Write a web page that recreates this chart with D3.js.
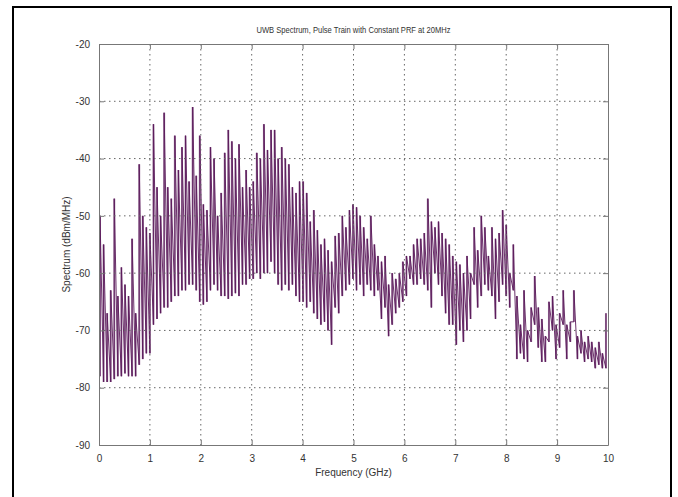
<!DOCTYPE html>
<meta charset="utf-8">
<html>
  <head>
    <style>
      body { margin: 0; background: #fff; }
      text { font-family: "Liberation Sans", Arial, sans-serif; fill: #333; }
      .grid line { stroke: #666; stroke-width: 1; stroke-dasharray: 1.5,3.5; }
      .axis path, .axis line { stroke: #777; }
    </style>
    <script src="https://d3js.org/d3.v7.min.js"></script>
  </head>
  <body>
    <div id="chart"></div>
    <script type="text/javascript">
      // spectral spikes (GHz, dBm/MHz)
      var freqGHz = [
        0.02, 0.09, 0.16, 0.23, 0.30, 0.37, 0.44, 0.51, 0.58, 0.65, 0.72, 0.79, 0.86, 0.93, 1.00,
        1.07, 1.14, 1.21, 1.28, 1.35, 1.42, 1.49, 1.56, 1.63, 1.70, 1.77, 1.84, 1.91, 1.98,
        2.05, 2.12, 2.19, 2.26, 2.33, 2.40, 2.47, 2.54, 2.61, 2.68, 2.75, 2.82, 2.89, 2.96,
        3.03, 3.10, 3.17, 3.24, 3.31, 3.38, 3.45, 3.52, 3.59, 3.66, 3.73, 3.80, 3.87, 3.94,
        4.01, 4.08, 4.15, 4.22, 4.29, 4.36, 4.43, 4.50, 4.57, 4.64, 4.71, 4.78, 4.85, 4.92,
        4.99, 5.06, 5.13, 5.20, 5.27, 5.34, 5.41, 5.48, 5.55, 5.62, 5.69, 5.76, 5.83, 5.90,
        5.97, 6.04, 6.11, 6.18, 6.25, 6.32, 6.39, 6.46, 6.53, 6.60, 6.67, 6.74, 6.81, 6.88,
        6.95, 7.02, 7.09, 7.16, 7.23, 7.30, 7.37, 7.44, 7.51, 7.58, 7.65, 7.72, 7.79, 7.86,
        7.93, 8.00, 8.07, 8.14, 8.21, 8.28, 8.35, 8.42, 8.49, 8.56, 8.63, 8.70, 8.77, 8.84,
        8.91, 8.98, 9.05, 9.12, 9.19, 9.26, 9.33, 9.40, 9.47, 9.54, 9.61, 9.68, 9.75, 9.82, 9.89, 9.96
      ];
      var peakDb = [
        -50, -55, -67, -63, -47, -64, -59, -62, -64, -54, -67, -41, -50, -52, -53,
        -34, -45, -50, -32, -45, -47, -36, -42, -38, -36, -44, -31, -43, -36,
        -48, -49, -38, -40, -50, -46, -39, -35, -37, -40, -37.5, -45, -42, -45,
        -44, -39, -40, -34, -38.5, -35, -35, -40, -38, -40, -41, -45, -46, -44,
        -44, -46, -51, -49, -52.5, -55, -54, -56, -58, -53.5, -53, -50, -52, -49,
        -48, -48.5, -50, -52, -54, -50, -55, -57, -58, -57, -62, -60, -61, -60,
        -58, -57, -57, -55, -54, -54, -53, -47, -51, -52, -51, -53, -54, -55,
        -57, -58, -58.5, -60, -57, -60, -52, -56, -50, -52, -57, -52, -54, -53,
        -49, -51.6, -60, -55, -64, -69, -63, -70, -66, -60.5, -66, -68, -71, -65,
        -64, -69, -67, -63, -69, -68.5, -63, -71, -70, -72, -71, -72, -73, -72, -74, -67
      ];
      var troughDb = [
        -78, -79, -79, -79, -78.5, -78, -78, -77.5, -78, -78, -78, -76, -75, -74, -74,
        -69, -68, -67, -66, -66, -65, -64, -64, -63, -63, -62, -62, -63, -65,
        -65.5, -65, -63, -62, -63, -64, -64, -64.5, -64, -63.5, -64, -62, -62, -61,
        -61, -60, -61, -60, -60, -58, -60, -62, -63, -62, -63, -62, -64, -65,
        -65, -66, -65, -67, -68, -69, -68.5, -70, -72.5, -66, -67, -64, -63, -62,
        -61, -63, -62, -64, -62, -63, -64, -63, -68, -66, -71, -69, -67, -66,
        -65, -64, -61, -62, -62, -61, -62, -63, -66, -60, -62, -64, -67, -69,
        -69, -72.5, -70, -72, -70, -68, -62, -66, -64, -62, -63, -64, -68, -65,
        -62, -64, -66, -63, -75, -74, -75, -75.5, -72, -69, -73, -75.5, -75.5, -72,
        -70, -75, -73, -69, -75, -72, -68.5, -75, -74, -75.5, -75, -75.5, -76.6, -76, -76.6, -76.6
      ];
      var xTicks = [0, 1, 2, 3, 4, 5, 6, 7, 8, 9, 10];
      var yTicks = [-90, -80, -70, -60, -50, -40, -30, -20];
      var titleText = "UWB Spectrum, Pulse Train with Constant PRF at 20MHz";
      var xTitle = "Frequency (GHz)";
      var yTitle = "Spectrum (dBm/MHz)";

      var W = 678, H = 497;
      var margin = { top: 44, right: 70, bottom: 52, left: 99 },
          width = W - margin.left - margin.right,
          height = H - margin.top - margin.bottom;

      var svg = d3.select("#chart").append("svg")
          .attr("width", W)
          .attr("height", H);

      // outer frame of the figure
      svg.append("rect")
          .attr("x", 13).attr("y", 7)
          .attr("width", 658).attr("height", 520)
          .attr("fill", "none")
          .attr("stroke", "#000")
          .attr("stroke-width", 2);

      var g = svg.append("g")
          .attr("transform", "translate(" + margin.left + "," + margin.top + ")");

      var x = d3.scaleLinear().domain([0, 10]).range([0, width]);
      var y = d3.scaleLinear().domain([-90, -20]).range([height, 0]);

      // pale vertical bars from trough to peak
      g.selectAll(".spike")
          .data(freqGHz)
          .enter().append("line")
            .attr("class", "spike")
            .attr("x1", function (d) { return x(d); })
            .attr("x2", function (d) { return x(d); })
            .attr("y1", function (d, i) { return y(troughDb[i]); })
            .attr("y2", function (d, i) { return y(peakDb[i]); })
            .attr("stroke", "#a682a6")
            .attr("stroke-width", 2);

      // zigzag trace: up to each peak, down to the next trough
      var pts = [];
      freqGHz.forEach(function (f, i) {
        pts.push([f, troughDb[i]]);
        pts.push([f, peakDb[i]]);
      });
      var line = d3.line()
          .x(function (d) { return x(d[0]); })
          .y(function (d) { return y(d[1]); });

      g.append("path")
          .datum(pts)
          .attr("fill", "none")
          .attr("stroke", "#5a1a5a")
          .attr("stroke-width", 0.9)
          .attr("d", line);

      // dotted grid on top, like matlab
      var grid = g.append("g").attr("class", "grid");
      grid.selectAll(".vx").data(xTicks.slice(1, -1)).enter().append("line")
          .attr("x1", function (d) { return x(d); })
          .attr("x2", function (d) { return x(d); })
          .attr("y1", 0).attr("y2", height);
      grid.selectAll(".hy").data(yTicks.slice(1, -1)).enter().append("line")
          .attr("y1", function (d) { return y(d); })
          .attr("y2", function (d) { return y(d); })
          .attr("x1", 0).attr("x2", width);

      // axes box with inward ticks
      var fmt = function (d) { return String(d); };
      g.append("g").attr("class", "axis")
          .attr("transform", "translate(0," + height + ")")
          .call(d3.axisBottom(x).tickValues(xTicks).tickSizeInner(-5).tickSizeOuter(0).tickPadding(10).tickFormat(fmt));
      g.append("g").attr("class", "axis")
          .call(d3.axisTop(x).tickValues(xTicks).tickSizeInner(-5).tickSizeOuter(0).tickFormat(""));
      g.append("g").attr("class", "axis")
          .call(d3.axisLeft(y).tickValues(yTicks).tickSizeInner(-5).tickSizeOuter(0).tickPadding(9).tickFormat(fmt));
      g.append("g").attr("class", "axis")
          .attr("transform", "translate(" + width + ",0)")
          .call(d3.axisRight(y).tickValues(yTicks).tickSizeInner(-5).tickSizeOuter(0).tickFormat(""));
      g.selectAll(".axis text").style("font-size", "10px").attr("fill", "#444");
      g.selectAll(".axis .domain").attr("stroke", "#777");

      svg.append("text")
          .attr("x", margin.left + width / 2).attr("y", 33)
          .attr("text-anchor", "middle")
          .attr("textLength", 194)
          .attr("lengthAdjust", "spacingAndGlyphs")
          .style("font-size", "9px")
          .text(titleText);

      svg.append("text")
          .attr("x", margin.left + width / 2).attr("y", 476)
          .attr("text-anchor", "middle")
          .style("font-size", "10px")
          .text(xTitle);

      svg.append("text")
          .attr("transform", "translate(70," + (margin.top + height / 2) + ") rotate(-90)")
          .attr("text-anchor", "middle")
          .style("font-size", "10px")
          .text(yTitle);
    </script>
  </body>
</html>
